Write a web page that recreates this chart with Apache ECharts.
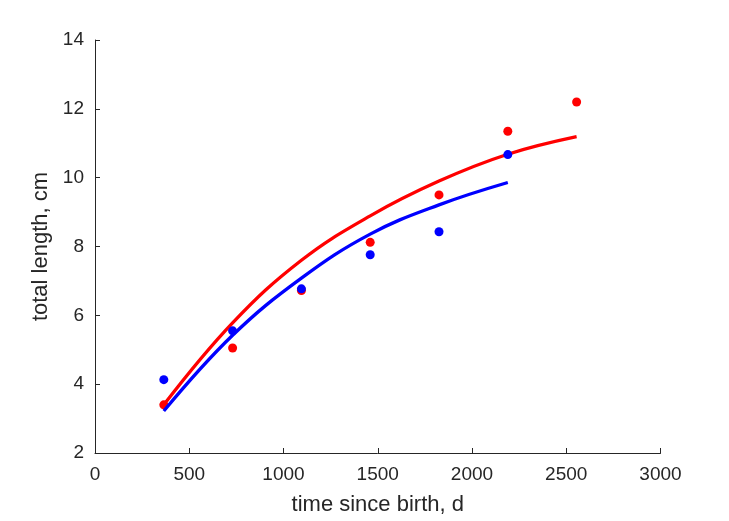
<!DOCTYPE html>
<html>
<head>
<meta charset="utf-8">
<script src="https://cdn.jsdelivr.net/npm/echarts@6/dist/echarts.min.js"></script>
<style>html,body{margin:0;padding:0;background:#fff}#c{width:729px;height:521px}</style>
</head>
<body>
<div id="c"></div>
<script>
// observed data
const redDays = [365, 730, 1095, 1460, 1825, 2190, 2555];
const redLength = [3.4, 5.05, 6.72, 8.12, 9.5, 11.35, 12.2];
const blueDays = [365, 730, 1095, 1460, 1825, 2190];
const blueLength = [4.13, 5.55, 6.77, 7.76, 8.43, 10.67];
// fitted curves
const redFitDays = [365, 730, 1095, 1460, 1825, 2190, 2555];
const redFitLength = [3.4, 5.78, 7.6, 8.89, 9.9, 10.68, 11.19];
const blueFitDays = [365, 730, 1095, 1460, 1825, 2190];
const blueFitLength = [3.22, 5.42, 7.08, 8.36, 9.21, 9.86];

const xTicks = [0, 500, 1000, 1500, 2000, 2500, 3000];
const yTicks = [2, 4, 6, 8, 10, 12, 14];

const zip = (a, b) => a.map((v, i) => [v, b[i]]);
const axisColor = '#262626';
const font = 'Liberation Sans, Arial, Helvetica, sans-serif';

const chart = echarts.init(document.getElementById('c'), null, {renderer: 'canvas'});
chart.setOption({
  animation: false,
  backgroundColor: '#fff',
  grid: {left: 95, right: 68.5, top: 40, bottom: 66, containLabel: false},
  xAxis: {
    type: 'value', min: xTicks[0], max: xTicks[xTicks.length - 1], interval: 500,
    name: 'time since birth, d', nameLocation: 'middle', nameGap: 41,
    nameTextStyle: {color: axisColor, fontSize: 22, fontFamily: font},
    axisLine: {show: true, lineStyle: {color: axisColor, width: 1}},
    axisTick: {show: true, inside: true, length: 5, lineStyle: {color: axisColor}},
    axisLabel: {color: axisColor, fontSize: 19, fontFamily: font, margin: 12,
                formatter: v => String(v)},
    splitLine: {show: false}
  },
  yAxis: {
    type: 'value', min: yTicks[0], max: yTicks[yTicks.length - 1], interval: 2,
    name: 'total length, cm', nameLocation: 'middle', nameGap: 37,
    nameTextStyle: {color: axisColor, fontSize: 22, fontFamily: font},
    axisLine: {show: true, lineStyle: {color: axisColor, width: 1}},
    axisTick: {show: true, inside: true, length: 5, lineStyle: {color: axisColor}},
    axisLabel: {color: axisColor, fontSize: 19, fontFamily: font, margin: 11,
                formatter: v => String(v)},
    splitLine: {show: false}
  },
  series: [
    {type: 'scatter', data: zip(redDays, redLength), symbolSize: 9,
     itemStyle: {color: '#ff0000', opacity: 1}, z: 2},
    {type: 'line', data: zip(redFitDays, redFitLength), smooth: 0.4, showSymbol: false,
     lineStyle: {color: '#ff0000', width: 3.3}, z: 3},
    {type: 'scatter', data: zip(blueDays, blueLength), symbolSize: 9,
     itemStyle: {color: '#0000ff', opacity: 1}, z: 4},
    {type: 'line', data: zip(blueFitDays, blueFitLength), smooth: 0.4, showSymbol: false,
     lineStyle: {color: '#0000ff', width: 3.3}, z: 5}
  ]
});
</script>
</body>
</html>
